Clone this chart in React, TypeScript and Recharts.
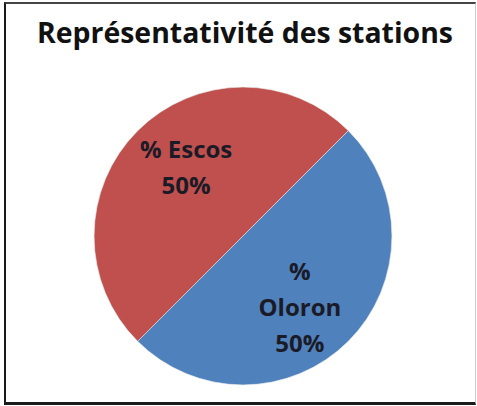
import { PieChart, Pie, Cell } from "recharts";

const stations = ["% Escos", "% Oloron"];
const shares = [50, 50];
const colors = ["#C0504D", "#4F81BD"];
const title = "Représentativité des stations";

const data = stations.map((name, i) => ({ name, value: shares[i] }));

const RAD = Math.PI / 180;

// Excel wraps the longer category name onto two lines
function wrap(name: string) {
  return name.length > 7 ? name.split(" ") : [name];
}

function renderLabel(props: any) {
  const { cx, cy, midAngle, outerRadius, name, percent } = props;
  const lines = [...wrap(name), `${Math.round(percent * 100)}%`];
  const x = cx + outerRadius * 0.54 * Math.cos(-midAngle * RAD);
  const y = cy + outerRadius * 0.66 * Math.sin(-midAngle * RAD);
  const lh = 36;
  const y0 = y - ((lines.length - 1) * lh) / 2;
  return (
    <text
      x={x}
      y={y0}
      textAnchor="middle"
      dominantBaseline="central"
      fill="#1b1b27"
      fontSize={24}
      fontWeight={700}
      fontFamily="'Open Sans', sans-serif"
    >
      {lines.map((l, i) => (
        <tspan key={i} x={x} dy={i === 0 ? 0 : lh}>
          {l}
        </tspan>
      ))}
    </text>
  );
}

export default function App() {
  return (
    <div
      style={{
        position: "absolute",
        left: 0,
        top: 0,
        width: 477,
        height: 406,
        background: "#fff",
      }}
    >
      <div
        style={{
          position: "absolute",
          left: 4,
          top: 2,
          width: 469,
          height: 398,
          borderLeft: "2px solid #1a1a1a",
          borderTop: "2px solid #444",
          borderBottom: "3px solid #1a1a1a",
          borderRight: "1px solid #ccc",
        }}
      />
      <svg
        width={477}
        height={70}
        style={{ position: "absolute", left: 0, top: 0 }}
      >
        <text
          x={37}
          y={43}
          fontSize={28}
          fontWeight={700}
          fill="#111"
          fontFamily="'Open Sans', sans-serif"
          textLength={416}
          lengthAdjust="spacingAndGlyphs"
        >
          {title}
        </text>
      </svg>
      <div style={{ position: "absolute", left: 0, top: 0 }}>
        <PieChart width={477} height={406}>
          <Pie
            data={data}
            dataKey="value"
            nameKey="name"
            cx={238}
            cy={231}
            outerRadius={149}
            startAngle={45}
            endAngle={405}
            stroke="#e8e8e8"
            strokeWidth={0.6}
            label={renderLabel}
            labelLine={false}
            isAnimationActive={false}
          >
            {data.map((d, i) => (
              <Cell key={d.name} fill={colors[i]} />
            ))}
          </Pie>
        </PieChart>
      </div>
    </div>
  );
}
